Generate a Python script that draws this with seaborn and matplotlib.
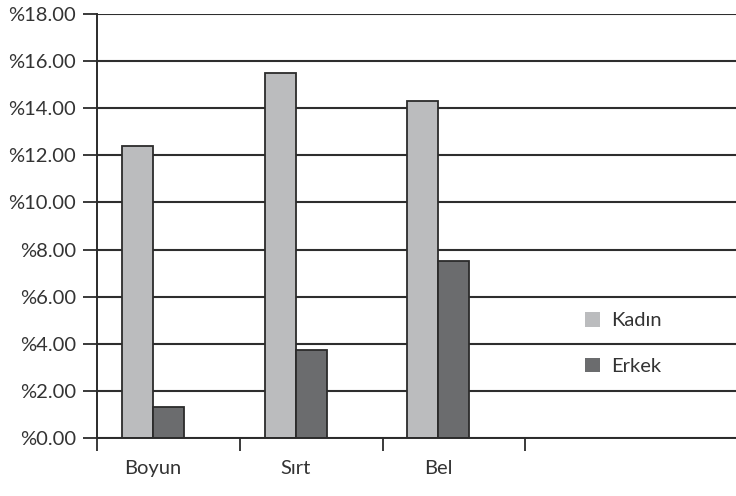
import matplotlib
matplotlib.use("Agg")
import matplotlib.pyplot as plt
import seaborn as sns
import pandas as pd

# Percentages by body region and sex
regions = ["Boyun", "Sırt", "Bel"]
groups = ["Kadın", "Erkek"]
kadin = [12.4, 15.5, 14.3]
erkek = [1.3, 3.75, 7.5]
y_ticks = [0, 2, 4, 6, 8, 10, 12, 14, 16, 18]

df = pd.DataFrame({
    "Bölge": regions * 2,
    "Cinsiyet": [groups[0]] * len(regions) + [groups[1]] * len(regions),
    "Oran": kadin + erkek,
})

sns.set_theme(style="white")
plt.rcParams["font.family"] = ["Lato", "DejaVu Sans"]

fig = plt.figure(figsize=(7.36, 4.96), dpi=100)
ax = fig.add_axes([97 / 736, 1 - 438 / 496, 1 - 97 / 736, (438 - 14) / 496])

sns.barplot(
    data=df, x="Bölge", y="Oran", hue="Cinsiyet",
    order=regions, hue_order=groups,
    palette=["#bbbcbe", "#6b6c6e"], width=0.435,
    edgecolor="#2b2b2b", linewidth=1.3, saturation=1,
    ax=ax, legend=True,
)

ax.set_xlim(-0.393, 4.09)
ax.set_ylim(0, 18)
ax.set_xlabel("")
ax.set_ylabel("")

# Y axis with percent-prefixed labels and dark horizontal gridlines
ax.set_yticks(y_ticks)
ax.set_yticklabels([f"%{v:.2f}" for v in y_ticks])
ax.yaxis.grid(True, color="#2e2e2e", linewidth=1.5)
ax.set_axisbelow(True)
ax.tick_params(axis="y", which="major", length=10, width=1.3, color="#2b2b2b",
               pad=5, labelsize=14.5, labelcolor="#333333", left=True)

# X axis: category labels without marks, boundary marks as minor ticks
ax.set_xticks(range(len(regions)))
ax.set_xticklabels(regions)
ax.tick_params(axis="x", which="major", length=0, pad=16, labelsize=14.5,
               labelcolor="#333333")
ax.set_xticks([-0.393, 0.61, 1.61, 2.61], minor=True)
ax.tick_params(axis="x", which="minor", length=9, width=1.3, color="#2b2b2b",
               bottom=True)

for side in ["top", "right"]:
    ax.spines[side].set_visible(False)
for side in ["left", "bottom"]:
    ax.spines[side].set_color("#2b2b2b")
    ax.spines[side].set_linewidth(1.4)

# Legend without frame or patch borders
handles, labels = ax.get_legend_handles_labels()
for h in handles:
    h.set_edgecolor("none")
ax.legend(handles, labels, frameon=False, loc="upper left",
          bbox_to_anchor=(0.735, 0.34), fontsize=14.5, labelcolor="#333333",
          handlelength=0.75, handleheight=0.75, handletextpad=0.55,
          labelspacing=1.4)

fig.savefig("out.png", dpi=100)
